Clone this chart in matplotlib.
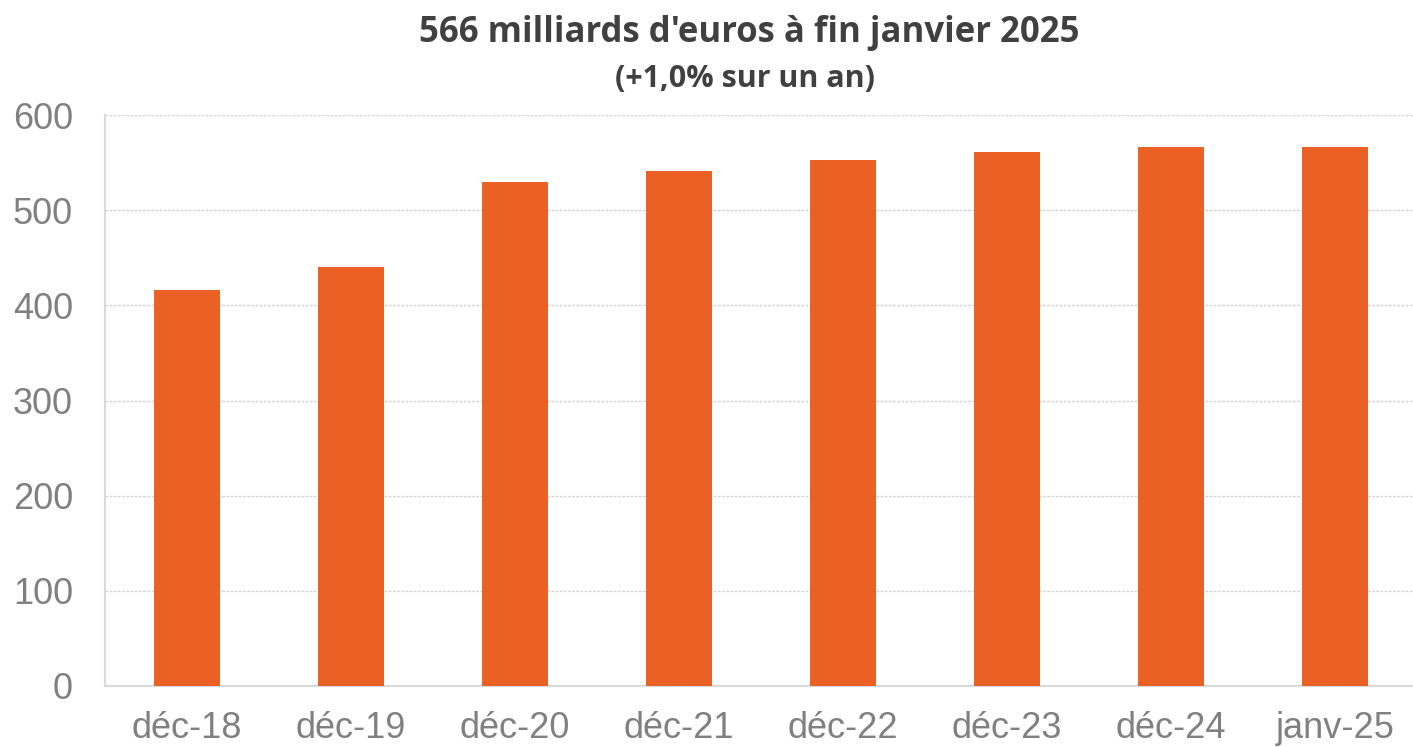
import matplotlib
matplotlib.use("Agg")
import matplotlib.pyplot as plt

# encours en milliards d'euros
categories = ["déc-18", "déc-19", "déc-20", "déc-21", "déc-22", "déc-23", "déc-24", "janv-25"]
values = [416, 440, 530, 541, 553, 561, 566, 566]
yticks = [0, 100, 200, 300, 400, 500, 600]

fig = plt.figure(figsize=(14.13, 7.47), dpi=100)
ax = fig.add_axes([0.0743, 0.0817, 0.9285, 0.7643])

ax.bar(range(len(categories)), values, width=0.40, color="#EA6025", zorder=3)

ax.set_xlim(-0.5, len(categories) - 0.5)
ax.set_ylim(0, 600)
ax.set_yticks(yticks)
ax.set_xticks(range(len(categories)))
ax.set_xticklabels(categories)
ax.grid(axis="y", color="#d4d4d4", linestyle=(0, (2, 1)), linewidth=1, zorder=0)

for side in ["top", "right"]:
    ax.spines[side].set_visible(False)
for side in ["left", "bottom"]:
    ax.spines[side].set_color("#d9d9d9")
    ax.spines[side].set_linewidth(1.5)
ax.tick_params(length=0, labelsize=26, labelcolor="#808080")
ax.tick_params(axis="x", pad=18)
ax.tick_params(axis="y", pad=23)
for lab in ax.get_xticklabels() + ax.get_yticklabels():
    lab.set_family("Liberation Sans")

fig.text(0.530, 0.956, "566 milliards d'euros à fin janvier 2025",
         ha="center", va="center", fontsize=25, fontweight="bold",
         family="Open Sans", color="#404040")
fig.text(0.527, 0.894, "(+1,0% sur un an)",
         ha="center", va="center", fontsize=22, fontweight="bold",
         family="Open Sans", color="#404040")

fig.savefig("out.png", dpi=100)
